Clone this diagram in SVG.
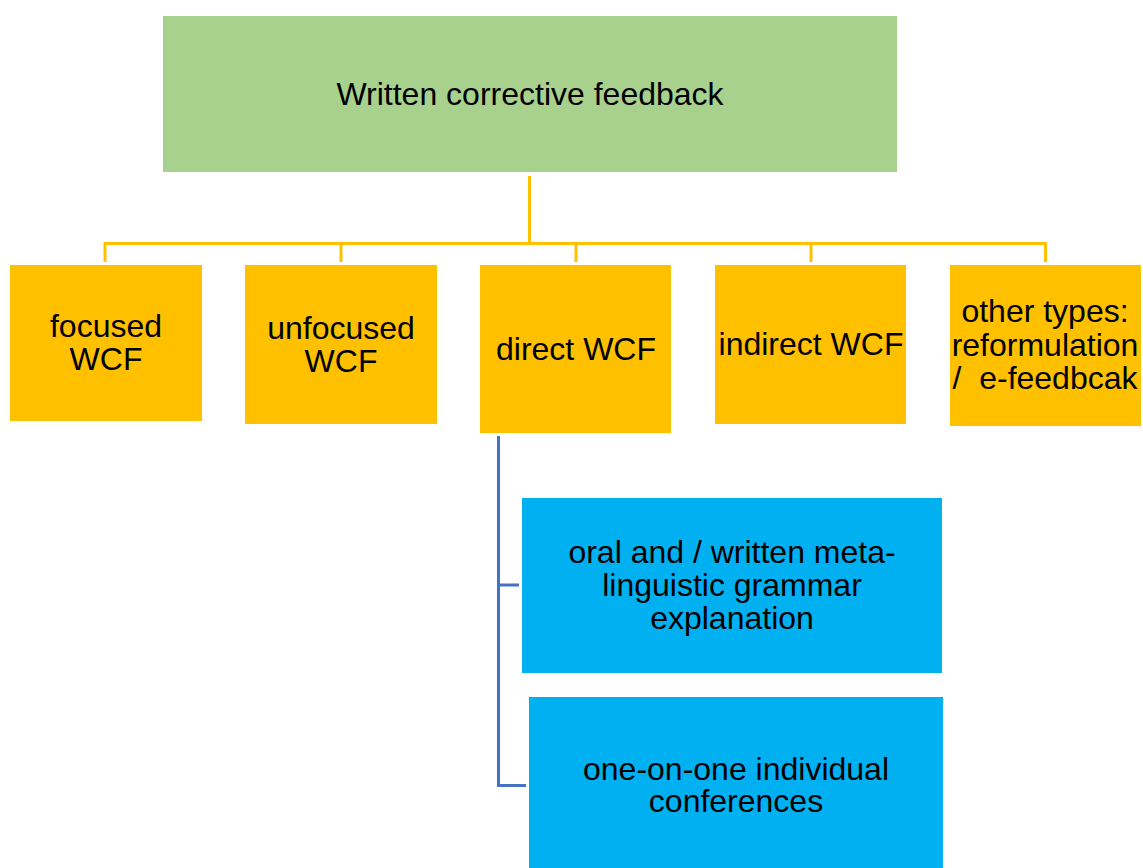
<svg xmlns="http://www.w3.org/2000/svg" width="1143" height="868" viewBox="0 0 1143 868">
  <style>
    .lbl { font-family: "Liberation Sans", Arial, sans-serif; font-size: 32px; fill: #000; text-anchor: middle; }
    .root { fill: #A9D18E; }
    .cat { fill: #FFC000; }
    .sub { fill: #00B0F0; }
    .tree { fill: none; stroke: #FFC000; stroke-width: 3; }
    .branch { fill: none; stroke: #4472C4; stroke-width: 3; }
  </style>
  <rect width="1143" height="868" fill="#fff"/>

  <!-- connectors -->
  <g id="connectors">
    <path class="tree" d="M529.5 176 V243.5 M105 262 V243.5 H1045.5 V262 M341 243.5 V262 M576 243.5 V262 M811 243.5 V262"/>
    <path class="branch" d="M498.5 436 V785.5 H526 M498.5 585 H519"/>
  </g>

  <g id="node-root">
    <rect class="root" x="163" y="16" width="734" height="156"/>
    <text class="lbl" x="530" y="105">Written corrective feedback</text>
  </g>

  <g id="node-focused">
    <rect class="cat" x="10" y="265" width="192" height="156"/>
    <text class="lbl" x="106" y="337">focused</text>
    <text class="lbl" x="106" y="370">WCF</text>
  </g>

  <g id="node-unfocused">
    <rect class="cat" x="245" y="265" width="192" height="159"/>
    <text class="lbl" x="341" y="339">unfocused</text>
    <text class="lbl" x="341" y="372">WCF</text>
  </g>

  <g id="node-direct">
    <rect class="cat" x="480" y="265" width="191" height="168"/>
    <text class="lbl" x="576" y="360">direct WCF</text>
  </g>

  <g id="node-indirect">
    <rect class="cat" x="715" y="265" width="191" height="159"/>
    <text class="lbl" x="811" y="355">indirect WCF</text>
  </g>

  <g id="node-other">
    <rect class="cat" x="950" y="265" width="191" height="161"/>
    <text class="lbl" x="1045" y="322">other types:</text>
    <text class="lbl" x="1045" y="356">reformulation</text>
    <text class="lbl" x="1045" y="389" xml:space="preserve">/  e-feedbcak</text>
  </g>

  <g id="node-metalinguistic">
    <rect class="sub" x="522" y="498" width="420" height="175"/>
    <text class="lbl" x="732" y="563">oral and / written meta-</text>
    <text class="lbl" x="732" y="596">linguistic grammar</text>
    <text class="lbl" x="732" y="629">explanation</text>
  </g>

  <g id="node-conferences">
    <rect class="sub" x="529" y="697" width="414" height="171"/>
    <text class="lbl" x="736" y="780">one-on-one individual</text>
    <text class="lbl" x="736" y="812">conferences</text>
  </g>
</svg>
